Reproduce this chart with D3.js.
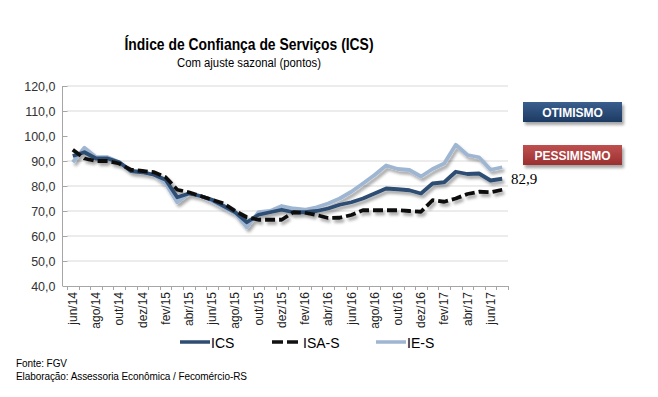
<!DOCTYPE html>
<html><head><meta charset="utf-8">
<script src="https://cdn.jsdelivr.net/npm/d3@7"></script>
<style>
html,body{margin:0;padding:0;background:#fff;}
svg{display:block;font-family:"Liberation Sans",Arial,sans-serif;}
</style></head>
<body>
<div id="chart"></div>
<script>
const categories = ["jun/14","jul/14","ago/14","set/14","out/14","nov/14","dez/14","jan/15","fev/15","mar/15","abr/15","mai/15","jun/15","jul/15","ago/15","set/15","out/15","nov/15","dez/15","jan/16","fev/16","mar/16","abr/16","mai/16","jun/16","jul/16","ago/16","set/16","out/16","nov/16","dez/16","jan/17","fev/17","mar/17","abr/17","mai/17","jun/17","jul/17"];
const ics = [92,93.5,91,91,89.5,86,85.5,84.5,82.5,75.5,77,76,74.5,72,69.5,65.5,68.5,69.5,70.5,69.5,69.5,70,71,72.5,73.5,75,77,79,78.7,78.3,77,81,81.5,85.7,84.8,85,82.2,82.9];
const isa = [94.5,91,90,90,89,86.5,86,85.5,83.5,78.5,77.5,76,74.5,73,70,67.5,66.5,66.5,66.5,69.5,69.3,68.4,67.2,67.3,68.4,70.3,70.3,70.3,70.3,70,69.7,74.3,73.7,75,76.8,77.7,77.5,78.5];
const ies = [89.5,95.3,91.5,91.5,89.5,86,85.5,84.5,81,73.5,77,76,74,71.5,69,63.5,69.5,70,72,71,70.5,71.5,73,75,77.7,81,84.4,88.2,86.8,86.4,83.8,86.8,89,96.5,92.4,91.5,86.5,87.5];
const yTicks = [40,50,60,70,80,90,100,110,120];
const xLabels = ["jun/14","ago/14","out/14","dez/14","fev/15","abr/15","jun/15","ago/15","out/15","dez/15","fev/16","abr/16","jun/16","ago/16","out/16","dez/16","fev/17","abr/17","jun/17"];
const seriesNames = ["ICS","ISA-S","IE-S"];
const lastLabel = "82,9";

const W=658,H=397;
const svg=d3.select("#chart").append("svg").attr("width",W).attr("height",H);
const defs=svg.append("defs");
const f=defs.append("filter").attr("id","sh").attr("x","-10%").attr("y","-20%").attr("width","130%").attr("height","160%");
f.append("feDropShadow").attr("dx",2).attr("dy",3).attr("stdDeviation",1.5).attr("flood-color","#000").attr("flood-opacity",0.35);
const gb=defs.append("linearGradient").attr("id","gblue").attr("x1",0).attr("y1",0).attr("x2",0).attr("y2",1);
gb.append("stop").attr("offset","0").attr("stop-color","#3a5f8e");
gb.append("stop").attr("offset","1").attr("stop-color","#1d3a62");
const gr=defs.append("linearGradient").attr("id","gred").attr("x1",0).attr("y1",0).attr("x2",0).attr("y2",1);
gr.append("stop").attr("offset","0").attr("stop-color","#c05050");
gr.append("stop").attr("offset","1").attr("stop-color","#9a3030");

const x=d3.scaleBand().domain(categories).range([67,508]).paddingInner(0).paddingOuter(0);
const xc=d=>x(d)+x.bandwidth()/2;
const y=d3.scaleLinear().domain([40,120]).range([286,86]);

// title
svg.append("text").attr("x",249).attr("y",50).attr("text-anchor","middle")
 .attr("font-size",17).attr("font-weight","bold").attr("textLength",249).attr("lengthAdjust","spacingAndGlyphs")
 .attr("fill","#000").text("Índice de Confiança de Serviços (ICS)");
svg.append("text").attr("x",249).attr("y",67).attr("text-anchor","middle")
 .attr("font-size",12.5).attr("textLength",144).attr("lengthAdjust","spacingAndGlyphs")
 .attr("fill","#000").text("Com ajuste sazonal (pontos)");

// gridlines
svg.append("g").selectAll("line").data(yTicks.filter(d=>d!==100 && d!==40)).join("line")
 .attr("x1",67).attr("x2",508).attr("y1",d=>y(d)).attr("y2",d=>y(d))
 .attr("stroke","#d9d9d9").attr("stroke-width",1);

// y axis
const yAxis=d3.axisLeft(y).tickValues(yTicks).tickSize(5).tickFormat(d=>d3.format(".1f")(d).replace(".",","));
const gy=svg.append("g").attr("transform","translate(67.5,0)").call(yAxis);
gy.attr("font-family",null);
gy.select(".domain").attr("stroke","#a6a6a6").attr("d","M-5,86V286");
gy.selectAll(".tick line").attr("stroke","#a6a6a6");
gy.selectAll(".tick text").attr("font-size",12.5).attr("fill","#333").attr("x",-12);

// 100 line
svg.append("line").attr("x1",62).attr("x2",625).attr("y1",y(100)).attr("y2",y(100))
 .attr("stroke","#9e9e9e").attr("stroke-width",3.5).attr("filter","url(#sh)");

// x axis
svg.append("line").attr("x1",67).attr("x2",508).attr("y1",286.5).attr("y2",286.5).attr("stroke","#a6a6a6");
const bounds=categories.map(d=>x(d)).concat([x(categories[categories.length-1])+x.bandwidth()]);
svg.append("g").selectAll("line").data(bounds).join("line")
 .attr("x1",d=>Math.round(d)+0.5).attr("x2",d=>Math.round(d)+0.5).attr("y1",286).attr("y2",290)
 .attr("stroke","#a6a6a6");
const xAxis=d3.axisBottom(x).tickValues(xLabels).tickSize(0);
const gx=svg.append("g").attr("transform","translate(0,286)").call(xAxis);
gx.attr("font-family",null);
gx.select(".domain").remove();
gx.selectAll(".tick text").attr("font-size",12).attr("fill","#222")
 .attr("transform","rotate(-90)").attr("text-anchor","end").attr("x",-6).attr("y",0).attr("dy","0.35em");

// lines
const line=d3.line().x((d,i)=>xc(categories[i])).y(d=>y(d));
const g=svg.append("g").attr("filter","url(#sh)");
g.append("path").datum(ies).attr("d",line).attr("fill","none").attr("stroke","#9fb6d3").attr("stroke-width",3.8).attr("stroke-linejoin","round");
g.append("path").datum(ics).attr("d",line).attr("fill","none").attr("stroke","#2e4d73").attr("stroke-width",3.8).attr("stroke-linejoin","round");
g.append("path").datum(isa).attr("d",line).attr("fill","none").attr("stroke","#111").attr("stroke-width",3.8).attr("stroke-dasharray","10,4").attr("stroke-linejoin","round");

// last value label
svg.append("text").attr("x",511).attr("y",y(ics[ics.length-1])+5).attr("font-size",15)
 .style("font-family","'Liberation Serif','Times New Roman',serif").attr("fill","#000").text(lastLabel);

// boxes
function box(yTop,fill,label){
  const gg=svg.append("g").attr("filter","url(#sh)");
  gg.append("rect").attr("x",523).attr("y",yTop).attr("width",99).attr("height",20).attr("fill",fill);
  svg.append("text").attr("x",572.5).attr("y",yTop+14.5).attr("text-anchor","middle").attr("font-size",12)
   .attr("font-weight","bold").attr("fill","#fff").text(label);
}
box(102,"url(#gblue)","OTIMISMO");
box(145,"url(#gred)","PESSIMISMO");

// legend
const lg=svg.append("g");
const legendItems=[{n:seriesNames[0],x:180,c:"#2e4d73",dash:null},{n:seriesNames[1],x:272,c:"#111",dash:"11,4"},{n:seriesNames[2],x:376,c:"#9fb6d3",dash:null}];
legendItems.forEach(it=>{
  lg.append("line").attr("x1",it.x).attr("x2",it.x+30).attr("y1",342).attr("y2",342).attr("stroke",it.c).attr("stroke-width",3.5)
   .attr("stroke-dasharray",it.dash);
  lg.append("text").attr("x",it.x+31).attr("y",347.5).attr("font-size",14).attr("fill","#000").text(it.n);
});

// footer
svg.append("text").attr("x",16).attr("y",367).attr("font-size",10).attr("textLength",51).attr("lengthAdjust","spacing").attr("fill","#000").text("Fonte: FGV");
svg.append("text").attr("x",16).attr("y",380).attr("font-size",10).attr("textLength",231).attr("lengthAdjust","spacing").attr("fill","#000").text("Elaboração: Assessoria Econômica / Fecomércio-RS");
</script>
</body></html>
